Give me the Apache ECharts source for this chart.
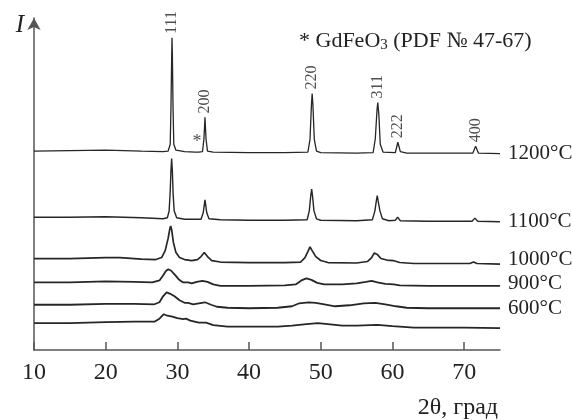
<!DOCTYPE html>
<html>
<head>
<meta charset="utf-8">
<script src="https://cdn.jsdelivr.net/npm/echarts@6/dist/echarts.min.js"></script>
<style>html,body{margin:0;padding:0;background:#fff}#c{width:572px;height:420px}</style>
</head>
<body>
<div id="c"></div>
<script>
// 2θ tick labels
const xTicks = [10, 20, 30, 40, 50, 60, 70];
// Trace names (top to bottom)
const traceNames = ['1200°C', '1100°C', '1000°C', '900°C', '600°C', ''];
// Traces: [2θ, intensity (arb. units, stacked)]
const t1200 = [[10,200],[15,200.5],[20,201],[25,200],[28,199.5],[28.7,200],[29.0,207],[29.1,242],[29.2,292],[29.25,314],[29.3,297],[29.4,242],[29.5,207],[29.8,201],[31,199.5],[32.5,199],[32.7,200.5],[33.0,199],[33.5,199.5],[33.7,212],[33.85,234],[34.0,212],[34.2,200],[35,199],[40,198.5],[45,198.5],[48.2,199],[48.5,212],[48.7,247],[48.8,258],[48.9,247],[49.1,212],[49.4,200],[50,198.5],[55,198],[57.3,198.5],[57.6,212],[57.85,242],[57.95,249],[58.1,237],[58.3,207],[58.7,199],[60.4,198.5],[60.75,209],[61.1,199.5],[62,198],[65,198],[71.2,198],[71.6,205],[72.0,198],[75,197.5]];
const t1100 = [[10,133.5],[15,133.5],[20,134],[25,133],[28,132],[28.6,133],[28.85,140],[29.0,160],[29.1,180],[29.2,192.7],[29.3,180],[29.4,158],[29.55,140],[29.9,133],[31,131.5],[33.3,131.5],[33.6,138],[33.85,151],[34.1,138],[34.4,132],[36,131],[40,130.5],[45,130.5],[48.1,131],[48.4,140],[48.6,155],[48.73,162],[48.85,155],[49.05,140],[49.4,132],[50,130.5],[55,130],[57.2,131],[57.55,140],[57.75,150],[57.88,155.3],[58.0,150],[58.25,140],[58.6,132],[59.5,130],[60.4,130.5],[60.72,133.7],[61.1,130],[65,129.5],[71.1,129.5],[71.5,132.7],[71.9,129.5],[75,129]];
const t1000 = [[10,92],[15,92],[20,93],[22,93],[25,91.5],[27,91],[27.8,93],[28.3,100],[28.7,112],[28.95,122],[29.06,124.7],[29.2,121],[29.45,108],[29.8,98],[30.3,93],[31,91],[32,90],[32.8,91],[33.3,94],[33.75,98],[34.2,94],[34.8,90],[36,88.5],[40,88],[45,88],[47.2,88.5],[47.8,93],[48.2,99],[48.5,103.7],[48.8,100],[49.3,94],[50,90],[51,88],[55,87.5],[56.5,89],[57.1,93],[57.45,97.5],[57.65,98.7],[57.9,96],[58.4,92],[59.2,90.5],[60.1,90],[61,88],[63,87],[70.8,87],[71.3,88.5],[71.8,87],[75,86.3]];
const t900 = [[10,68],[15,68],[20,69],[24,68.5],[26.5,68],[27.5,70],[28.0,75],[28.4,79.5],[28.73,81.3],[29.1,80],[29.6,76],[30.2,71],[30.8,68],[31.0,67.5],[31.5,68],[32.0,67],[32.7,68.5],[33.5,69.5],[34.2,68.5],[35,66],[36,64.5],[40,64.5],[45,65],[46.5,66],[47.3,70],[48.0,72],[48.7,70.5],[49.5,67.5],[50.5,66],[53,66],[55,67],[56.3,68.5],[57.1,69.5],[57.9,68],[59,66.5],[60.2,66],[61,65],[65,64.5],[70,64.5],[75,64.5]];
const t600 = [[10,45.5],[15,45.5],[20,46.5],[24,46.5],[26.8,46],[27.5,48],[28.0,54],[28.5,58],[29.0,56.5],[29.6,54],[30.3,50],[31.0,47.5],[31.5,47.5],[32.2,46],[33.0,47],[33.85,48],[34.7,45.5],[35.5,43.5],[37,42.5],[40,42],[44,42.5],[46,44],[47,47],[48.3,48],[49.3,47.5],[50.5,46],[52,44],[54,45],[56,47],[57.6,47.5],[59,46],[60.5,44],[62,42.5],[65,42],[70,42],[75,42]];
const tBase = [[10,27],[15,27],[20,28],[24,28.5],[26.8,28.5],[27.5,31.5],[28.1,36],[28.6,34.5],[29.3,33.5],[30.0,32],[30.8,31],[31.2,31.5],[31.8,29.5],[33,27.5],[34,27.5],[35,25],[37,23.5],[41,23.5],[44,23.5],[46,24.5],[48,26],[49.6,27],[51,26],[53,24.5],[55,24.5],[57.9,25.3],[60,24],[63,22.5],[70,22.5],[75,22]];
// Reflection labels (hkl) and their peak positions/heights on the top trace
const peakHkl = ['111', '200', '220', '311', '222', '400'];
const peakPos = [29.25, 33.89, 48.81, 57.98, 60.77, 71.64];
const peakTop = [314, 234, 258, 249, 209, 205];
// Impurity marker
const starPos = [32.74, 209];

const traces = [t1200, t1100, t1000, t900, t600, tBase];
const labelShift = [0, 0, -5, -2, 0, 0];
const widths = [1.3, 1.4, 1.7, 1.8, 1.8, 1.8];
const serif = '"Liberation Serif","DejaVu Serif",serif';
const ink = '#262626';

const series = traces.map((d, i) => ({
  type: 'line', name: traceNames[i], data: d, showSymbol: false, silent: true,
  lineStyle: {color: ink, width: widths[i]},
  endLabel: {show: traceNames[i] !== '', formatter: traceNames[i], distance: 8,
    offset: [0, labelShift[i]], fontFamily: serif, fontSize: 21, color: '#222'}
}));
series.push({
  type: 'scatter', symbolSize: 0, silent: true,
  data: peakHkl.map((h, i) => ({name: h, value: [peakPos[i], peakTop[i]]})),
  label: {show: true, formatter: '{b}', position: 'top', distance: 4, rotate: 90,
    align: 'left', verticalAlign: 'middle', fontFamily: serif, fontSize: 16, color: '#222'}
});
series.push({
  type: 'scatter', symbolSize: 0, silent: true,
  data: [{name: '*', value: starPos}],
  label: {show: true, formatter: '{b}', position: 'inside', fontFamily: serif, fontSize: 18, color: '#222'}
});

const chart = echarts.init(document.getElementById('c'), null, {renderer: 'canvas'});
chart.setOption({
  animation: false,
  grid: {left: 34, right: 72, top: 18, bottom: 68},
  xAxis: {
    type: 'value', min: 10, max: 75,
    name: '2θ, град', nameLocation: 'end', nameGap: -2,
    nameTextStyle: {fontFamily: serif, fontSize: 24, color: '#222', align: 'right', verticalAlign: 'top', padding: [46, 0, 0, 0]},
    axisLine: {lineStyle: {color: '#555', width: 1.5}},
    axisTick: {inside: true, length: 8, lineStyle: {color: '#555', width: 1.5}, customValues: xTicks},
    axisLabel: {fontFamily: serif, fontSize: 24, color: '#222', margin: 11, customValues: xTicks},
    splitLine: {show: false}
  },
  yAxis: {
    type: 'value', min: 0, max: 334,
    name: 'I', nameLocation: 'end', nameGap: -7,
    nameTextStyle: {fontFamily: serif, fontStyle: 'italic', fontSize: 25, color: '#222', align: 'right', verticalAlign: 'middle', padding: [0, 10, 0, 0]},
    axisLine: {show: true, symbol: ['none', 'arrow'], symbolSize: [10, 12], lineStyle: {color: '#555', width: 1.5}},
    axisTick: {show: false}, axisLabel: {show: false}, splitLine: {show: false}
  },
  graphic: [{
    type: 'text', left: 299, top: 30,
    style: {
      text: '* GdFeO{s|3} (PDF № 47-67)',
      rich: {s: {fontSize: 15, fontFamily: serif, fill: '#222', padding: [9, 0, 0, 0]}},
      font: '22px "Liberation Serif", serif', fill: '#222'
    }
  }],
  series: series
});
</script>
</body>
</html>
